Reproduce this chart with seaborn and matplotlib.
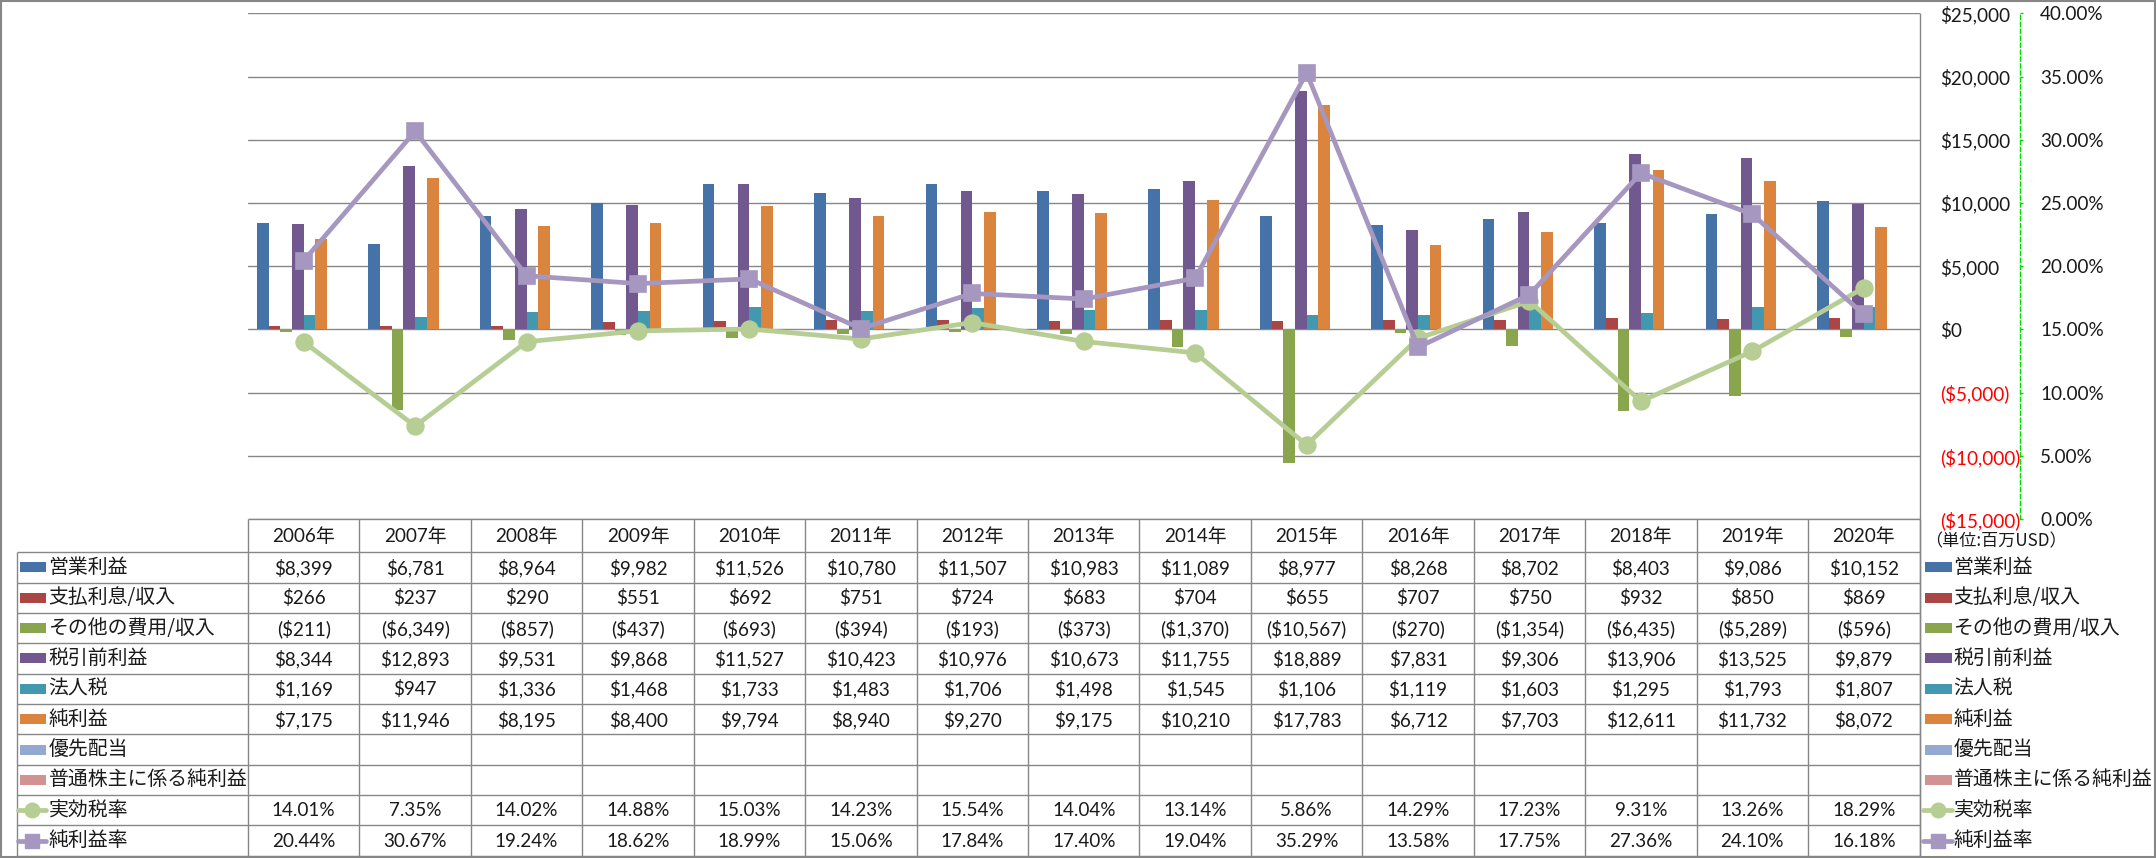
import numpy as np
import pandas as pd
import matplotlib
matplotlib.use("Agg")
import matplotlib.pyplot as plt
import seaborn as sns
from matplotlib.patches import Rectangle
from matplotlib.lines import Line2D
from matplotlib.ticker import FixedLocator, FuncFormatter

# ---------------- data ----------------
years = ["2006年", "2007年", "2008年", "2009年", "2010年", "2011年", "2012年", "2013年",
         "2014年", "2015年", "2016年", "2017年", "2018年", "2019年", "2020年"]
operating_income = [8399, 6781, 8964, 9982, 11526, 10780, 11507, 10983, 11089, 8977, 8268, 8702, 8403, 9086, 10152]
interest = [266, 237, 290, 551, 692, 751, 724, 683, 704, 655, 707, 750, 932, 850, 869]
other = [-211, -6349, -857, -437, -693, -394, -193, -373, -1370, -10567, -270, -1354, -6435, -5289, -596]
pretax = [8344, 12893, 9531, 9868, 11527, 10423, 10976, 10673, 11755, 18889, 7831, 9306, 13906, 13525, 9879]
income_tax = [1169, 947, 1336, 1468, 1733, 1483, 1706, 1498, 1545, 1106, 1119, 1603, 1295, 1793, 1807]
net_income = [7175, 11946, 8195, 8400, 9794, 8940, 9270, 9175, 10210, 17783, 6712, 7703, 12611, 11732, 8072]
preferred_div = [None] * 15
common_net = [None] * 15
tax_rate = [14.01, 7.35, 14.02, 14.88, 15.03, 14.23, 15.54, 14.04, 13.14, 5.86, 14.29, 17.23, 9.31, 13.26, 18.29]
net_margin = [20.44, 30.67, 19.24, 18.62, 18.99, 15.06, 17.84, 17.40, 19.04, 35.29, 13.58, 17.75, 27.36, 24.10, 16.18]

bar_names = ["営業利益", "支払利息/収入", "その他の費用/収入", "税引前利益", "法人税", "純利益",
             "優先配当", "普通株主に係る純利益"]
bar_values = [operating_income, interest, other, pretax, income_tax, net_income, preferred_div, common_net]
bar_colors = ["#4572A7", "#AA4643", "#89A54E", "#71588F", "#4198AF", "#DB843D", "#93A9CF", "#D19392"]
line_names = ["実効税率", "純利益率"]
line_values = [tax_rate, net_margin]
line_colors = ["#B6CD93", "#A597BF"]
line_markers = ["o", "s"]
primary_ticks = [-15000, -10000, -5000, 0, 5000, 10000, 15000, 20000, 25000]
secondary_ticks = [0.00, 0.05, 0.10, 0.15, 0.20, 0.25, 0.30, 0.35, 0.40]
unit_note = "（単位:百万USD）"

# ---------------- style ----------------
sns.set_style("white")
LATIN = ["Lato", "Noto Sans CJK JP", "DejaVu Sans"]
JP = ["Noto Sans CJK JP", "DejaVu Sans"]
plt.rcParams["font.family"] = LATIN
GRID = "#878787"
TXT = "#1a1a1a"
NUM_FS = 13.6
JP_FS = 14.3

W, H = 2156, 858
fig = plt.figure(figsize=(W / 100, H / 100), dpi=100)
fig.patch.set_facecolor("white")

P_LEFT, P_RIGHT, P_TOP, P_BOT = 248, 1919.5, 13.3, 519
ax = fig.add_axes([P_LEFT / W, (H - P_BOT) / H, (P_RIGHT - P_LEFT) / W, (P_BOT - P_TOP) / H])

# long-form data for bars
rows = []
for name, vals in zip(bar_names, bar_values):
    for y, v in zip(years, vals):
        rows.append({"year": y, "series": name, "value": np.nan if v is None else v})
bars_df = pd.DataFrame(rows)

sns.barplot(data=bars_df, x="year", y="value", hue="series", order=years, hue_order=bar_names,
            palette=dict(zip(bar_names, bar_colors)), width=0.84, gap=0, saturation=1,
            errorbar=None, legend=False, linewidth=0, ax=ax)

ax.set_xlim(-0.5, len(years) - 0.5)
ax.set_ylim(primary_ticks[0], primary_ticks[-1])
ax.yaxis.set_major_locator(FixedLocator(primary_ticks))


def money(v):
    return f"${v:,.0f}" if v >= 0 else f"(${-v:,.0f})"


ax.yaxis.set_major_formatter(FuncFormatter(lambda v, p: money(v)))
ax.grid(axis="y", color=GRID, linewidth=1.0)
ax.grid(axis="x", visible=False)
ax.set_axisbelow(True)
for s in ax.spines.values():
    s.set_visible(False)
ax.set_xlabel("")
ax.set_ylabel("")

# secondary axis with lines
ax2 = ax.twinx()
lines_rows = []
for name, vals in zip(line_names, line_values):
    for y, v in zip(years, vals):
        lines_rows.append({"year": y, "series": name, "rate": v / 100})
lines_df = pd.DataFrame(lines_rows)
for name, col, mk in zip(line_names, line_colors, line_markers):
    sub = lines_df[lines_df["series"] == name]
    sns.pointplot(data=sub, x="year", y="rate", order=years, color=col, markers=mk,
                  linestyles="-", errorbar=None, ax=ax2,
                  markersize=12 if mk == "o" else 11.5, linewidth=3.4,
                  markeredgewidth=1.2, markeredgecolor=col, markerfacecolor=col)
ax2.set_xlim(-0.5, len(years) - 0.5)
ax2.set_ylim(secondary_ticks[0], secondary_ticks[-1])
ax2.yaxis.set_major_locator(FixedLocator(secondary_ticks))
ax2.yaxis.set_major_formatter(FuncFormatter(lambda v, p: f"{v * 100:.2f}%"))
ax2.set_xlabel("")
ax2.set_ylabel("")
ax2.grid(False)
for k, s in ax2.spines.items():
    s.set_visible(k == "right")
ax2.spines["right"].set_position(("outward", 72.4))
ax2.spines["right"].set_color("#00DD00")
ax2.spines["right"].set_linestyle((0, (3, 2)))
ax2.spines["right"].set_linewidth(1.0)
ax2.tick_params(axis="y", left=False, labelleft=False, right=True, labelright=True,
                direction="out", length=2.5, width=1.0, color="#00DD00",
                pad=12, labelsize=NUM_FS, labelcolor=TXT)
ax2.tick_params(axis="x", bottom=False, labelbottom=False)

# primary labels go to the right side (after twinx, which resets them to the left)
ax.tick_params(axis="y", left=False, labelleft=False, right=False, labelright=True,
               length=0, pad=14.5, labelsize=NUM_FS, labelcolor=TXT)
ax.tick_params(axis="x", bottom=False, labelbottom=False)

# ---------------- data table (in pixel coords) ----------------
ov = fig.add_axes([0, 0, 1, 1])
ov.set_xlim(0, W)
ov.set_ylim(H, 0)
ov.axis("off")
ov.patch.set_alpha(0)


def xpix(i):
    return ax.transData.transform((i, 0))[0]


xb = [xpix(i - 0.5) for i in range(len(years) + 1)]
xc = [xpix(i) for i in range(len(years))]

HEAD_TOP = P_BOT
HEAD_BOT = 552.3
ROW_H = 30.34
n_rows = len(bar_names) + len(line_names)
TAB_BOT = HEAD_BOT + n_rows * ROW_H
LAB_LEFT = 16.5

lk = dict(color=GRID, linewidth=1.0, solid_capstyle="butt")
for x in xb:
    ov.plot([x, x], [HEAD_TOP, TAB_BOT], **lk)
ov.plot([xb[-1], xb[-1]], [P_TOP, TAB_BOT], **lk)
ov.plot([xb[0], xb[-1]], [HEAD_TOP, HEAD_TOP], **lk)
for k in range(n_rows + 1):
    y = HEAD_BOT + k * ROW_H
    ov.plot([LAB_LEFT, xb[-1]], [y, y], **lk)
ov.plot([LAB_LEFT, LAB_LEFT], [HEAD_BOT, TAB_BOT], **lk)

for x, yr in zip(xc, years):
    ov.text(x, (HEAD_TOP + HEAD_BOT) / 2, yr, ha="center", va="center",
            fontsize=NUM_FS, color=TXT, family=LATIN)


def draw_key(x0, x1, yc, kind, color, marker=None):
    if kind == "bar":
        ov.add_patch(Rectangle((x0, yc - 5), x1 - x0, 10, facecolor=color, edgecolor="none"))
    else:
        ov.add_line(Line2D([x0, x1], [yc, yc], color=color, linewidth=3.4))
        ov.add_line(Line2D([(x0 + x1) / 2], [yc], color=color, marker=marker,
                           markersize=10.5 if marker == "o" else 10, markeredgecolor=color))


all_names = bar_names + line_names
all_colors = bar_colors + line_colors
all_kinds = ["bar"] * len(bar_names) + ["line"] * len(line_names)
all_markers = [None] * len(bar_names) + line_markers
all_vals = bar_values + line_values

for r, (name, col, kind, mk, vals) in enumerate(zip(all_names, all_colors, all_kinds, all_markers, all_vals)):
    yc = HEAD_BOT + (r + 0.5) * ROW_H
    if kind == "bar":
        draw_key(20, 45.7, yc, kind, col)
        draw_key(1925, 1951.7, yc, kind, col)
    else:
        draw_key(18, 46, yc, kind, col, mk)
        draw_key(1923, 1952, yc, kind, col, mk)
    ov.text(48.5, yc, name, ha="left", va="center", fontsize=JP_FS, color=TXT, family=JP)
    ov.text(1953.5, yc, name, ha="left", va="center", fontsize=JP_FS, color=TXT, family=JP)
    for x, v in zip(xc, vals):
        if v is None:
            continue
        s = f"{v:.2f}%" if kind == "line" else money(v)
        ov.text(x, yc + 0.5, s, ha="center", va="center", fontsize=NUM_FS, color=TXT, family=LATIN)

ov.text(1925, 541, unit_note, ha="left", va="center", fontsize=12.3, color=TXT, family=JP)

ov.add_patch(Rectangle((1, 1), W - 2, H - 2, facecolor="none", edgecolor="#868686", linewidth=1.5))

# negative primary labels in red
fig.canvas.draw()
for t in ax.yaxis.get_ticklabels():
    txt = t.get_text()
    t.set_color("#FF0000" if txt.startswith("(") else TXT)

fig.savefig("out.png", dpi=100, facecolor="white")
